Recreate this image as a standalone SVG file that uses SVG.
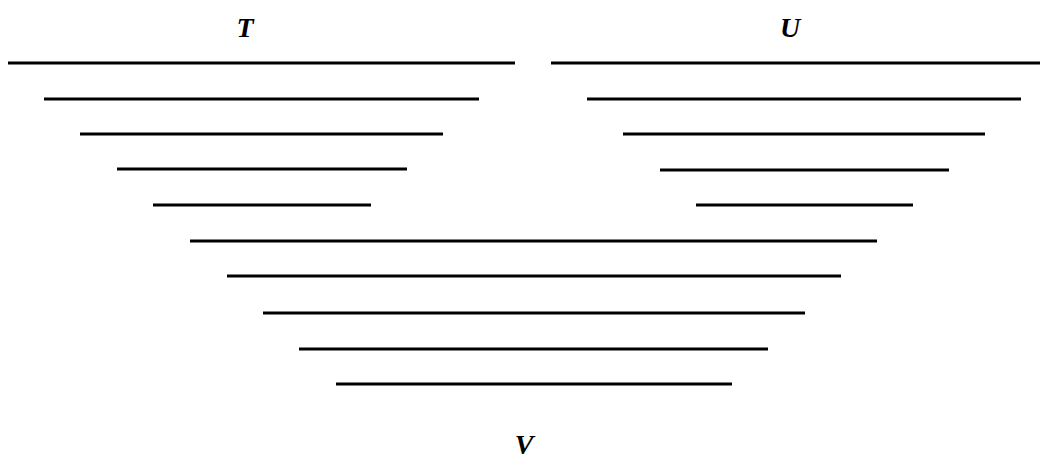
<svg xmlns="http://www.w3.org/2000/svg" width="1050" height="461" viewBox="0 0 1050 461">
<style>
.l{stroke:#000;stroke-width:2.8;fill:none}
.t{font-family:"Liberation Serif",serif;font-style:italic;font-weight:bold;font-size:28px;text-anchor:middle;fill:#000}
</style>
<rect width="1050" height="461" fill="#fff"/>
<g id="T">
<text class="t" x="245" y="37">T</text>
<line class="l" x1="8" y1="63" x2="515" y2="63"/>
<line class="l" x1="44" y1="99" x2="479" y2="99"/>
<line class="l" x1="80" y1="134" x2="443" y2="134"/>
<line class="l" x1="117" y1="169" x2="407" y2="169"/>
<line class="l" x1="153" y1="205" x2="371" y2="205"/>
</g>
<g id="U">
<text class="t" x="790" y="37">U</text>
<line class="l" x1="551" y1="63" x2="1040" y2="63"/>
<line class="l" x1="587" y1="99" x2="1021" y2="99"/>
<line class="l" x1="623" y1="134" x2="985" y2="134"/>
<line class="l" x1="660" y1="170" x2="949" y2="170"/>
<line class="l" x1="696" y1="205" x2="913" y2="205"/>
</g>
<g id="V">
<line class="l" x1="190" y1="241" x2="877" y2="241"/>
<line class="l" x1="227" y1="276" x2="841" y2="276"/>
<line class="l" x1="263" y1="313" x2="805" y2="313"/>
<line class="l" x1="299" y1="349" x2="768" y2="349"/>
<line class="l" x1="336" y1="384" x2="732" y2="384"/>
<text class="t" x="524" y="454">V</text>
</g>
</svg>
